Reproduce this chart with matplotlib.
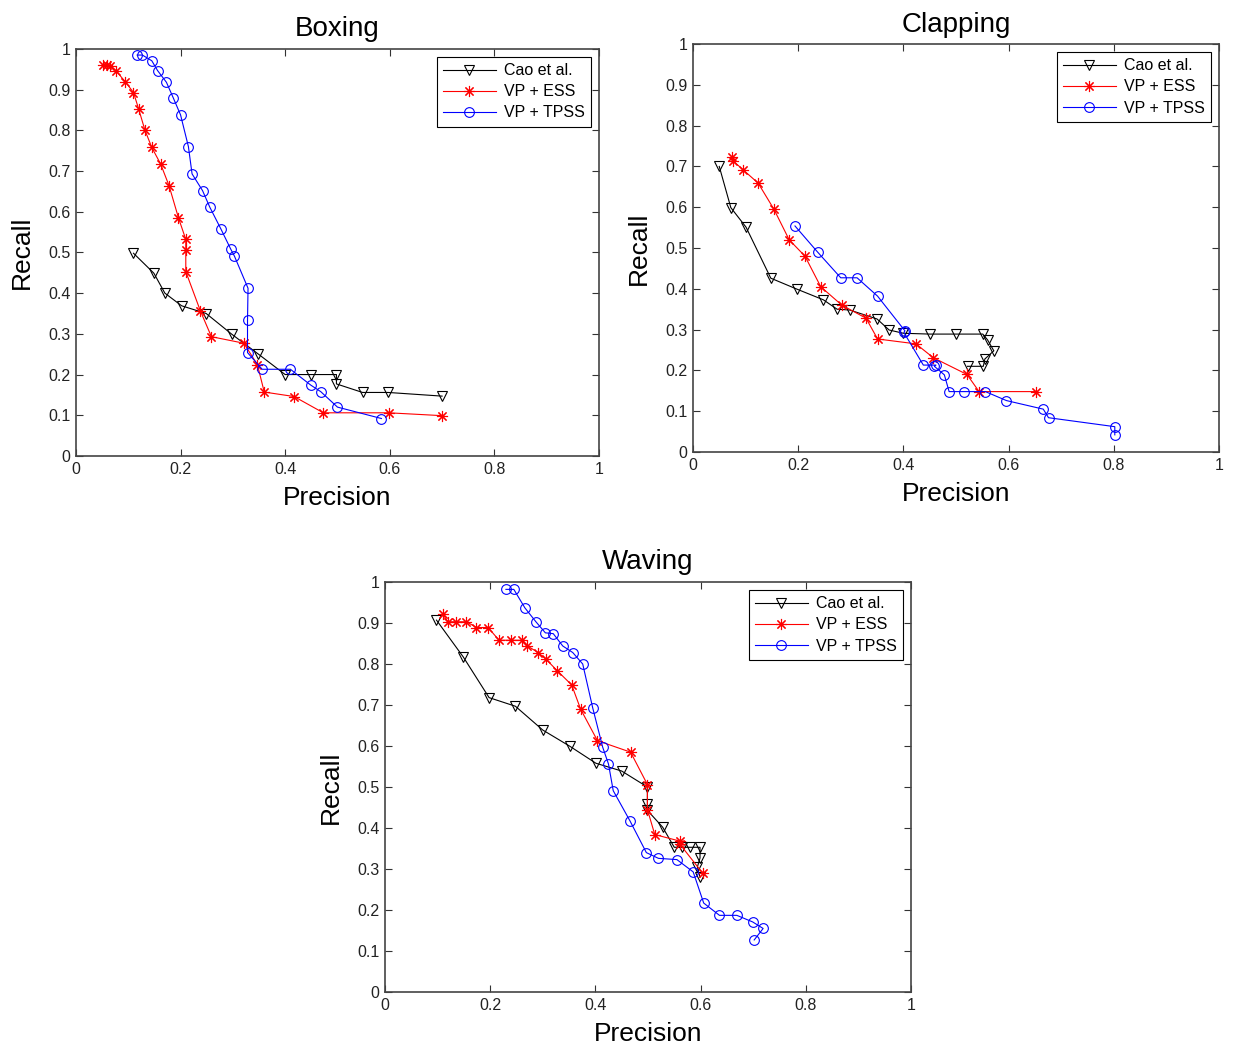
#!/usr/bin/env python3
"""Precision/recall curves for Boxing, Clapping and Waving."""

import matplotlib

matplotlib.use("Agg")
import matplotlib.pyplot as plt

plt.rcParams["font.family"] = ["Liberation Sans", "DejaVu Sans"]

SERIES_LABELS = ["Cao et al.", "VP + ESS", "VP + TPSS"]

# Boxing
boxing_cao_p = [0.11, 0.149, 0.17, 0.202, 0.249, 0.298, 0.349, 0.40, 0.45, 0.498, 0.498, 0.548, 0.597, 0.70]
boxing_cao_r = [0.498, 0.449, 0.40, 0.369, 0.35, 0.299, 0.25, 0.20, 0.20, 0.20, 0.177, 0.156, 0.156, 0.147]
boxing_ess_p = [0.052, 0.059, 0.065, 0.076, 0.094, 0.11, 0.12, 0.132, 0.145, 0.162, 0.178, 0.196, 0.21, 0.21,
                0.21, 0.238, 0.259, 0.321, 0.347, 0.36, 0.417, 0.473, 0.598, 0.70]
boxing_ess_r = [0.961, 0.961, 0.959, 0.947, 0.92, 0.893, 0.852, 0.80, 0.758, 0.717, 0.664, 0.585, 0.532, 0.506,
                0.453, 0.356, 0.293, 0.277, 0.224, 0.157, 0.146, 0.106, 0.106, 0.099]
boxing_tpss_p = [0.117, 0.127, 0.145, 0.156, 0.173, 0.186, 0.20, 0.215, 0.222, 0.242, 0.256, 0.277, 0.296,
                 0.303, 0.329, 0.328, 0.328, 0.356, 0.41, 0.449, 0.468, 0.50, 0.584]
boxing_tpss_r = [0.985, 0.985, 0.971, 0.947, 0.918, 0.88, 0.838, 0.76, 0.693, 0.652, 0.611, 0.558, 0.508,
                 0.491, 0.412, 0.333, 0.254, 0.213, 0.213, 0.174, 0.158, 0.12, 0.092]

# Clapping
clapping_cao_p = [0.05, 0.072, 0.101, 0.148, 0.198, 0.248, 0.274, 0.298, 0.35, 0.373, 0.40, 0.45, 0.50,
                  0.551, 0.56, 0.572, 0.555, 0.552, 0.522]
clapping_cao_r = [0.70, 0.599, 0.551, 0.426, 0.399, 0.373, 0.35, 0.348, 0.326, 0.299, 0.291, 0.289, 0.289,
                  0.289, 0.275, 0.248, 0.228, 0.21, 0.21]
clapping_ess_p = [0.074, 0.076, 0.096, 0.124, 0.154, 0.183, 0.213, 0.243, 0.283, 0.329, 0.351, 0.424,
                  0.457, 0.521, 0.544, 0.653]
clapping_ess_r = [0.722, 0.714, 0.691, 0.659, 0.595, 0.52, 0.48, 0.405, 0.36, 0.328, 0.277, 0.265,
                  0.231, 0.19, 0.148, 0.148]
clapping_tpss_p = [0.194, 0.237, 0.281, 0.312, 0.351, 0.403, 0.401, 0.438, 0.462, 0.459, 0.478, 0.487,
                   0.515, 0.556, 0.596, 0.666, 0.676, 0.802, 0.802]
clapping_tpss_r = [0.554, 0.49, 0.427, 0.427, 0.382, 0.297, 0.293, 0.213, 0.213, 0.21, 0.189, 0.148,
                   0.148, 0.148, 0.126, 0.105, 0.084, 0.062, 0.042]

# Waving
waving_cao_p = [0.098, 0.149, 0.198, 0.248, 0.30, 0.352, 0.401, 0.45, 0.499, 0.499, 0.499, 0.528, 0.55,
                0.564, 0.58, 0.599, 0.599, 0.594, 0.599]
waving_cao_r = [0.907, 0.817, 0.718, 0.697, 0.639, 0.599, 0.558, 0.539, 0.50, 0.458, 0.443, 0.402, 0.353,
                0.353, 0.353, 0.353, 0.327, 0.305, 0.28]
waving_ess_p = [0.11, 0.12, 0.136, 0.155, 0.174, 0.196, 0.217, 0.239, 0.26, 0.271, 0.291, 0.306, 0.328,
                0.355, 0.372, 0.404, 0.467, 0.499, 0.499, 0.513, 0.561, 0.561, 0.604]
waving_ess_r = [0.921, 0.903, 0.903, 0.903, 0.889, 0.889, 0.858, 0.858, 0.858, 0.844, 0.828, 0.812, 0.783,
                0.749, 0.69, 0.613, 0.585, 0.506, 0.445, 0.384, 0.368, 0.36, 0.29]
waving_tpss_p = [0.23, 0.245, 0.266, 0.287, 0.305, 0.32, 0.338, 0.357, 0.376, 0.395, 0.414, 0.425, 0.434,
                 0.466, 0.497, 0.52, 0.555, 0.586, 0.606, 0.636, 0.669, 0.699, 0.719, 0.702]
waving_tpss_r = [0.982, 0.982, 0.937, 0.903, 0.876, 0.874, 0.844, 0.828, 0.80, 0.693, 0.597, 0.556, 0.491,
                 0.417, 0.34, 0.326, 0.323, 0.293, 0.217, 0.187, 0.187, 0.171, 0.155, 0.127]

AXES_LAYOUT = {
    "Boxing": [0.0616, 0.5641, 0.4242, 0.3891],
    "Clapping": [0.5620, 0.5679, 0.4266, 0.3900],
    "Waving": [0.3122, 0.0516, 0.4266, 0.3920],
}

STYLES = [
    dict(color="black", marker="v", markersize=7),
    dict(color="#FF0000", marker=(8, 2, 0), markersize=8),
    dict(color="#0000FF", marker="o", markersize=7),
]


def draw_panel(fig, title, series):
    ax = fig.add_axes(AXES_LAYOUT[title])
    for (p, r), label, style in zip(series, SERIES_LABELS, STYLES):
        ax.plot(p, r, label=label, linewidth=0.8, markerfacecolor="none",
                markeredgewidth=0.8, markeredgecolor=style["color"], **style)
    ax.set_xlim(0, 1)
    ax.set_ylim(0, 1)
    ax.set_xticks([0, 0.2, 0.4, 0.6, 0.8, 1])
    ax.set_xticklabels(["0", "0.2", "0.4", "0.6", "0.8", "1"])
    yt = [i / 10 for i in range(11)]
    ax.set_yticks(yt)
    ax.set_yticklabels(["0"] + [f"{v:.1f}" for v in yt[1:-1]] + ["1"])
    ax.tick_params(direction="in", top=True, right=True, length=5, width=0.8,
                   labelsize=11.5, colors="#333333", labelcolor="#222222", pad=4)
    for spine in ax.spines.values():
        spine.set_color("#444444")
        spine.set_linewidth(1.2)
    ax.set_title(title, fontsize=20, pad=9)
    ax.set_xlabel("Precision", fontsize=19, labelpad=7)
    ax.set_ylabel("Recall", fontsize=19, labelpad=10)
    leg = ax.legend(loc="upper right", fontsize=11.5, handlelength=3.3, labelspacing=0.38,
                    borderaxespad=0.5, fancybox=False, framealpha=1, borderpad=0.4,
                    handletextpad=0.5)
    leg.get_frame().set_edgecolor("black")
    leg.get_frame().set_linewidth(0.8)
    return ax


fig = plt.figure(figsize=(12.33, 10.46), dpi=100)
draw_panel(fig, "Boxing", [(boxing_cao_p, boxing_cao_r), (boxing_ess_p, boxing_ess_r),
                           (boxing_tpss_p, boxing_tpss_r)])
draw_panel(fig, "Clapping", [(clapping_cao_p, clapping_cao_r), (clapping_ess_p, clapping_ess_r),
                             (clapping_tpss_p, clapping_tpss_r)])
draw_panel(fig, "Waving", [(waving_cao_p, waving_cao_r), (waving_ess_p, waving_ess_r),
                           (waving_tpss_p, waving_tpss_r)])
fig.savefig("out.png", dpi=100)
